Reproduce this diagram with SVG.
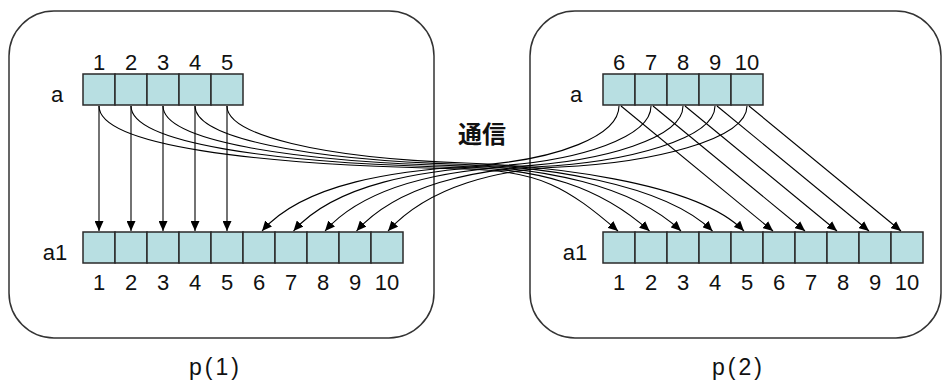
<svg xmlns="http://www.w3.org/2000/svg" width="944" height="381" viewBox="0 0 944 381">
<style>
.box{fill:none;stroke:#333;stroke-width:1.5}
.cell{fill:#b8dfe2;stroke:#2a2a2a;stroke-width:1.5}
.lbl{font-family:"Liberation Sans",Arial,sans-serif;font-size:22px;fill:#111;text-anchor:middle}
.cap{font-family:"Liberation Sans",Arial,sans-serif;font-size:23px;fill:#111;text-anchor:middle}
.jp{font-family:"Noto Sans CJK JP","Noto Sans",sans-serif;font-size:24px;font-weight:bold;fill:#111;text-anchor:middle}
.conn{fill:none;stroke:#000;stroke-width:1.1;marker-end:url(#ah)}
</style>
<defs>
<marker id="ah" markerUnits="userSpaceOnUse" markerWidth="10" markerHeight="9" refX="10" refY="4.5" orient="auto" viewBox="0 0 10 9">
<path d="M0,0 L10,4.5 L0,9 z" fill="#000"/>
</marker>
</defs>
<rect x="0" y="0" width="944" height="381" fill="#fff"/>

<g id="p1">
<rect class="box" x="9" y="11" width="425" height="327" rx="45" ry="45"/>
<text class="cap" x="214" y="375" textLength="50" lengthAdjust="spacing">p(1)</text>
</g>
<g id="p2">
<rect class="box" x="530" y="11" width="411" height="327" rx="45" ry="45"/>
<text class="cap" x="737" y="375" textLength="50" lengthAdjust="spacing">p(2)</text>
</g>

<g id="p1-a">
<text class="lbl" x="57" y="102">a</text>
<rect class="cell" x="83" y="74" width="32" height="31"/>
<rect class="cell" x="115" y="74" width="32" height="31"/>
<rect class="cell" x="147" y="74" width="32" height="31"/>
<rect class="cell" x="179" y="74" width="32" height="31"/>
<rect class="cell" x="211" y="74" width="32" height="31"/>
<text class="lbl" x="99" y="70">1</text>
<text class="lbl" x="131" y="70">2</text>
<text class="lbl" x="163" y="70">3</text>
<text class="lbl" x="195" y="70">4</text>
<text class="lbl" x="227" y="70">5</text>
</g>

<g id="p1-a1">
<text class="lbl" x="55" y="260">a1</text>
<rect class="cell" x="83" y="232" width="32" height="31"/>
<rect class="cell" x="115" y="232" width="32" height="31"/>
<rect class="cell" x="147" y="232" width="32" height="31"/>
<rect class="cell" x="179" y="232" width="32" height="31"/>
<rect class="cell" x="211" y="232" width="32" height="31"/>
<rect class="cell" x="243" y="232" width="32" height="31"/>
<rect class="cell" x="275" y="232" width="32" height="31"/>
<rect class="cell" x="307" y="232" width="32" height="31"/>
<rect class="cell" x="339" y="232" width="32" height="31"/>
<rect class="cell" x="371" y="232" width="32" height="31"/>
<text class="lbl" x="99" y="290">1</text>
<text class="lbl" x="131" y="290">2</text>
<text class="lbl" x="163" y="290">3</text>
<text class="lbl" x="195" y="290">4</text>
<text class="lbl" x="227" y="290">5</text>
<text class="lbl" x="259" y="290">6</text>
<text class="lbl" x="291" y="290">7</text>
<text class="lbl" x="323" y="290">8</text>
<text class="lbl" x="355" y="290">9</text>
<text class="lbl" x="387" y="290">10</text>
</g>

<g id="p2-a">
<text class="lbl" x="576" y="102">a</text>
<rect class="cell" x="603" y="74" width="32" height="31"/>
<rect class="cell" x="635" y="74" width="32" height="31"/>
<rect class="cell" x="667" y="74" width="32" height="31"/>
<rect class="cell" x="699" y="74" width="32" height="31"/>
<rect class="cell" x="731" y="74" width="32" height="31"/>
<text class="lbl" x="619" y="70">6</text>
<text class="lbl" x="651" y="70">7</text>
<text class="lbl" x="683" y="70">8</text>
<text class="lbl" x="715" y="70">9</text>
<text class="lbl" x="747" y="70">10</text>
</g>

<g id="p2-a1">
<text class="lbl" x="575" y="260">a1</text>
<rect class="cell" x="603" y="232" width="32" height="31"/>
<rect class="cell" x="635" y="232" width="32" height="31"/>
<rect class="cell" x="667" y="232" width="32" height="31"/>
<rect class="cell" x="699" y="232" width="32" height="31"/>
<rect class="cell" x="731" y="232" width="32" height="31"/>
<rect class="cell" x="763" y="232" width="32" height="31"/>
<rect class="cell" x="795" y="232" width="32" height="31"/>
<rect class="cell" x="827" y="232" width="32" height="31"/>
<rect class="cell" x="859" y="232" width="32" height="31"/>
<rect class="cell" x="891" y="232" width="32" height="31"/>
<text class="lbl" x="619" y="290">1</text>
<text class="lbl" x="651" y="290">2</text>
<text class="lbl" x="683" y="290">3</text>
<text class="lbl" x="715" y="290">4</text>
<text class="lbl" x="747" y="290">5</text>
<text class="lbl" x="779" y="290">6</text>
<text class="lbl" x="811" y="290">7</text>
<text class="lbl" x="843" y="290">8</text>
<text class="lbl" x="875" y="290">9</text>
<text class="lbl" x="907" y="290">10</text>
</g>

<g id="comm">
<text class="jp" x="482" y="143">通信</text>
</g>

<g id="connectors">
<path class="conn" d="M99,106 L99,231"/>
<path class="conn" d="M131,106 L131,231"/>
<path class="conn" d="M163,106 L163,231"/>
<path class="conn" d="M195,106 L195,231"/>
<path class="conn" d="M227,106 L227,231"/>

<path class="conn" d="M99,106 C99,145 250,165 465,169 C540,170.4 568,188 618,231"/>
<path class="conn" d="M131,106 C131,142.5 267.5,163.25 465,167.5 C540,169.1 599.5,186 649.5,231"/>
<path class="conn" d="M163,106 C163,140 285,161.5 465,166 C540,167.9 631,184 681,231"/>
<path class="conn" d="M195,106 C195,137.5 302.5,159.75 465,164.5 C540,166.7 662.5,182 712.5,231"/>
<path class="conn" d="M227,106 C227,135 320,158 465,163 C540,165.6 694,180 744,231"/>

<path class="conn" d="M619,106 C619,135 560,160 470,166 C400,170.7 305,182 262,231"/>
<path class="conn" d="M651,106 C651,136.25 582.5,160.75 492.5,166.25 C425,170.45 336.25,182.75 293.5,231"/>
<path class="conn" d="M683,106 C683,137.5 605,161.5 515,166.5 C450,170.2 367.5,183.5 325,231"/>
<path class="conn" d="M715,106 C715,138.75 627.5,162.25 537.5,166.75 C475,169.95 398.75,184.25 356.5,231"/>
<path class="conn" d="M747,106 C747,140 650,163 560,167 C500,169.7 430,185 388,231"/>

<path class="conn" d="M621,106 L773,231"/>
<path class="conn" d="M653,106 L805,231"/>
<path class="conn" d="M685,106 L837,231"/>
<path class="conn" d="M717,106 L869,231"/>
<path class="conn" d="M749,106 L901,231"/>
</g>
</svg>
